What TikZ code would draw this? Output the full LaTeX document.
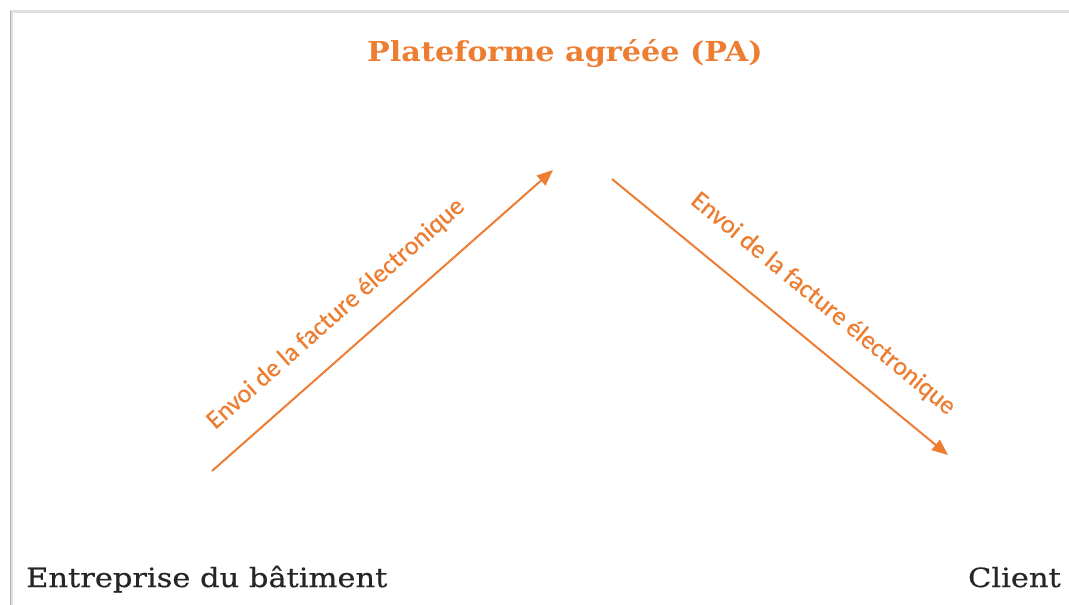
\documentclass[tikz,border=0pt]{standalone}
\usepackage{fontspec}
\setmainfont{DejaVu Serif}
\newfontfamily\partyfont[FakeStretch=1.15, FakeBold=0.6]{DejaVu Serif}
\newfontfamily\ttlfont[FakeStretch=1.1]{DejaVu Serif Bold}
\newfontfamily\lblfont[FakeBold=0.4]{Carlito}
\usetikzlibrary{arrows.meta}
\definecolor{orng}{HTML}{ED7D31}
\definecolor{ink}{HTML}{262626}
\tikzset{
  flow/.style={draw=orng, line width=2pt, -{Triangle[length=16pt,width=13pt]}},
  lbl/.style={text=orng, font=\lblfont\fontsize{26}{30}\selectfont, inner sep=0pt},
  party/.style={text=ink, font=\partyfont\fontsize{26.5}{30}\selectfont, inner sep=0pt, anchor=base west},
  ttl/.style={text=orng, font=\ttlfont\fontsize{27.5}{32}\selectfont, inner sep=0pt, anchor=base}
}
\begin{document}
\begin{tikzpicture}[x=1pt,y=-1pt]
\useasboundingbox (0,0) rectangle (1069,605);
\fill[white] (0,0) rectangle (1069,605);
% frame shadow
\draw[black!12, line width=3pt] (11,605) -- (11,11) -- (1069,11);
\draw[black!30, line width=1.2pt] (10.5,605) -- (10.5,11);
% nodes
\node[ttl] (pa) at (565,61) {Plateforme agréée (PA)};
\node[party] (ent) at (26,587) {Entreprise du bâtiment};
\node[party, anchor=base east] (cli) at (1061,587) {Client};
% arrows
\coordinate (s1) at (212,471);
\coordinate (e1) at (553,170);
\coordinate (s2) at (612,179);
\coordinate (e2) at (948,455);
\draw[flow] (s1) -- (e1);
\draw[flow] (s2) -- (e2);
\node[lbl, rotate=41.5] (l1) at (336,314) {Envoi de la facture électronique};
\node[lbl, rotate=-39.5] (l2) at (823,304) {Envoi de la facture électronique};
\end{tikzpicture}
\end{document}
